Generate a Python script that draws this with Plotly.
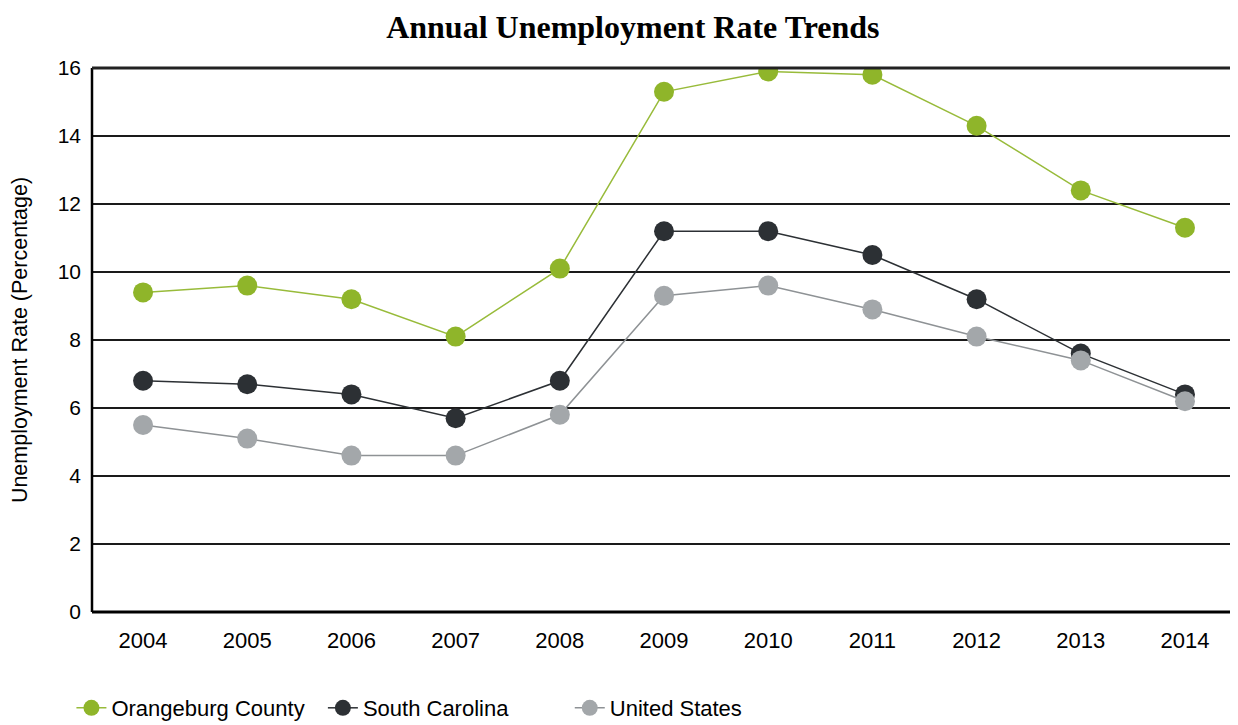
import plotly.graph_objects as go

years = [2004, 2005, 2006, 2007, 2008, 2009, 2010, 2011, 2012, 2013, 2014]
orangeburg = [9.4, 9.6, 9.2, 8.1, 10.1, 15.3, 15.9, 15.8, 14.3, 12.4, 11.3]
south_carolina = [6.8, 6.7, 6.4, 5.7, 6.8, 11.2, 11.2, 10.5, 9.2, 7.6, 6.4]
united_states = [5.5, 5.1, 4.6, 4.6, 5.8, 9.3, 9.6, 8.9, 8.1, 7.4, 6.2]
y_ticks = [0, 2, 4, 6, 8, 10, 12, 14, 16]

series = [
    ("Orangeburg County", orangeburg, "#8fb52a", "#98bb3a", "legend", -0.018),
    ("South Carolina", south_carolina, "#2c3034", "#2c3034", "legend2", 0.202),
    ("United States", united_states, "#a3a7aa", "#8e9295", "legend3", 0.418),
]

fig = go.Figure()
legend_layouts = {}
for name, vals, mcol, lcol, leg, lx in series:
    fig.add_trace(go.Scatter(
        x=years, y=vals, name=name, mode="lines+markers",
        line=dict(color=lcol, width=1.5),
        marker=dict(color=mcol, size=20),
        legend=leg,
    ))
    legend_layouts[leg] = dict(
        orientation="h", x=lx, xref="paper", xanchor="left",
        y=0.0237, yref="container", yanchor="middle",
        font=dict(size=22, color="black", family="Liberation Sans, Arial"),
        bgcolor="rgba(0,0,0,0)",
    )

# page body has an 8px margin, so the figure is 8px smaller and shifted
fig.update_layout(
    width=1230, height=717,
    paper_bgcolor="white", plot_bgcolor="white",
    margin=dict(l=84, r=3, t=60, b=113, autoexpand=False),
    title=dict(text="<b>Annual Unemployment Rate Trends</b>", x=0.508, xanchor="center",
               y=0.989, yanchor="top",
               font=dict(family="Liberation Serif", size=32, color="black")),
    font=dict(family="Liberation Sans, Arial", color="black"),
    showlegend=True,
    **legend_layouts,
)

fig.update_xaxes(
    range=[2004 - 0.49, 2014 + 0.48], tickmode="array", tickvals=years,
    ticktext=[str(y) for y in years], showgrid=False, zeroline=False,
    showline=True, linecolor="#d8d8d8", linewidth=1, mirror=True,
    ticks="", tickfont=dict(size=22), ticklabelstandoff=9, automargin=False,
)
fig.update_yaxes(
    range=[0, 16], tickmode="array", tickvals=y_ticks, showgrid=True,
    gridcolor="#1a1a1a", gridwidth=1.6, zeroline=False,
    showline=False, ticks="", tickfont=dict(size=21), ticklabelstandoff=10,
    automargin=False,
    title=dict(text="Unemployment Rate (Percentage)", font=dict(size=21.5), standoff=25),
)

# heavy left and bottom axis lines, top line
fig.add_shape(type="line", xref="paper", yref="paper", x0=0, x1=0, y0=0, y1=1,
              line=dict(color="black", width=2.5))
fig.add_shape(type="line", xref="paper", yref="paper", x0=0, x1=1, y0=0, y1=0,
              line=dict(color="black", width=3))
fig.add_shape(type="line", xref="paper", yref="paper", x0=0, x1=1, y0=1, y1=1,
              line=dict(color="#222", width=3))

fig.write_html("out.html")
